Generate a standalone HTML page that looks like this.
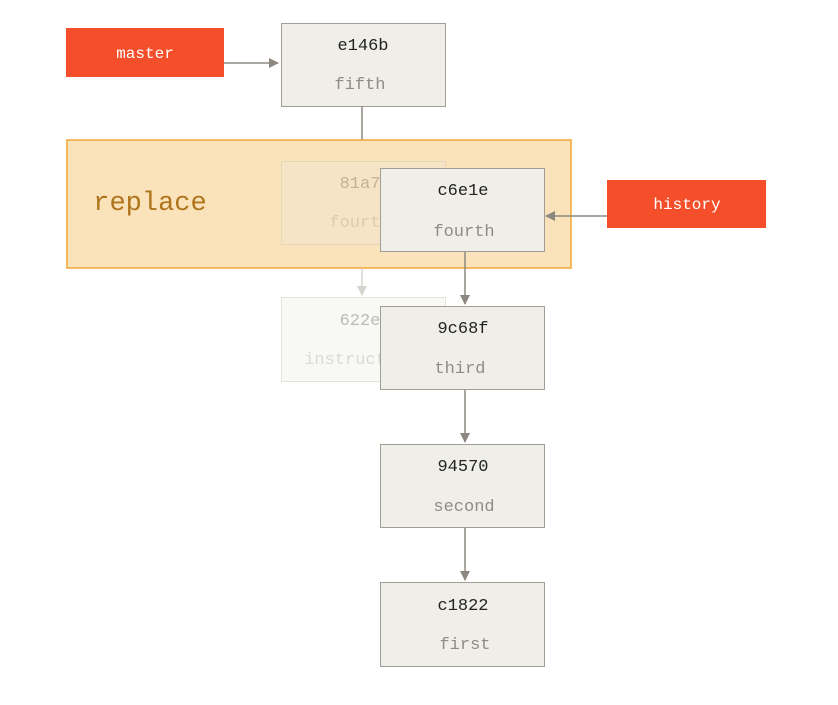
<!DOCTYPE html>
<html><head><style>body{margin:0;background:#fff}svg{display:block}</style></head><body>
<svg width="838" height="705" xmlns="http://www.w3.org/2000/svg" font-family="Liberation Mono, monospace" text-anchor="middle">
<defs>
<marker id="a" markerWidth="10" markerHeight="10" refX="9" refY="5" orient="auto" markerUnits="userSpaceOnUse"><path d="M0,0 L10,5 L0,10 z" fill="#8c8880"/></marker>
<marker id="f" markerWidth="10" markerHeight="10" refX="9" refY="5" orient="auto" markerUnits="userSpaceOnUse"><path d="M0,0 L10,5 L0,10 z" fill="#d6d4cf"/></marker>
</defs>
<rect x="66" y="28" width="158" height="49" fill="#f44f2a"/>
<text x="145" y="58" fill="#fff" font-size="16">master</text>
<line x1="224" y1="63" x2="278" y2="63" stroke="#8c8880" stroke-width="1.5" marker-end="url(#a)"/>
<rect x="281.5" y="23.5" width="164" height="83" fill="#efeee8" stroke="#a19e96"/>
<text x="363" y="50" fill="#222" font-size="17">e146b</text>
<text x="360" y="89" fill="#8f8c86" font-size="17">fifth</text>
<line x1="362" y1="106" x2="362" y2="140" stroke="#8c8880" stroke-width="1.5"/>
<rect x="67" y="140" width="504" height="128" fill="#fae3bb" stroke="#f0a630" stroke-width="1.5"/>
<text x="150" y="210" fill="#b0741c" font-size="27">replace</text>
<rect x="281.5" y="161.5" width="164" height="83" fill="#f5e4c5" stroke="#e6d6b8"/>
<text x="360" y="188" fill="#c2b29a" font-size="17">81a7</text>
<text x="360" y="227" fill="#dccdb2" font-size="17">fourth</text>
<rect x="380.5" y="168.5" width="164" height="83" fill="#efeee8" stroke="#a19e96"/>
<text x="463" y="195" fill="#222" font-size="17">c6e1e</text>
<text x="464" y="236" fill="#8f8c86" font-size="17">fourth</text>
<rect x="607" y="180" width="159" height="48" fill="#f44f2a"/>
<text x="687" y="209" fill="#fff" font-size="16">history</text>
<line x1="607" y1="216" x2="546" y2="216" stroke="#8c8880" stroke-width="1.5" marker-end="url(#a)"/>
<line x1="362" y1="268" x2="362" y2="295" stroke="#d6d4cf" stroke-width="1.5" marker-end="url(#f)"/>
<rect x="281.5" y="297.5" width="164" height="84" fill="#f8f8f5" stroke="#e4e3de"/>
<text x="360" y="325" fill="#bdbbb6" font-size="17">622e</text>
<text x="345" y="364" fill="#dcdad5" font-size="17">instruct</text>
<line x1="465" y1="252" x2="465" y2="304" stroke="#8c8880" stroke-width="1.5" marker-end="url(#a)"/>
<rect x="380.5" y="306.5" width="164" height="83" fill="#efeee8" stroke="#a19e96"/>
<text x="463" y="333" fill="#222" font-size="17">9c68f</text>
<text x="460" y="373" fill="#8f8c86" font-size="17">third</text>
<line x1="465" y1="390" x2="465" y2="442" stroke="#8c8880" stroke-width="1.5" marker-end="url(#a)"/>
<rect x="380.5" y="444.5" width="164" height="83" fill="#efeee8" stroke="#a19e96"/>
<text x="463" y="471" fill="#222" font-size="17">94570</text>
<text x="464" y="511" fill="#8f8c86" font-size="17">second</text>
<line x1="465" y1="528" x2="465" y2="580" stroke="#8c8880" stroke-width="1.5" marker-end="url(#a)"/>
<rect x="380.5" y="582.5" width="164" height="84" fill="#efeee8" stroke="#a19e96"/>
<text x="463" y="610" fill="#222" font-size="17">c1822</text>
<text x="465" y="649" fill="#8f8c86" font-size="17">first</text>
</svg>
</body></html>
